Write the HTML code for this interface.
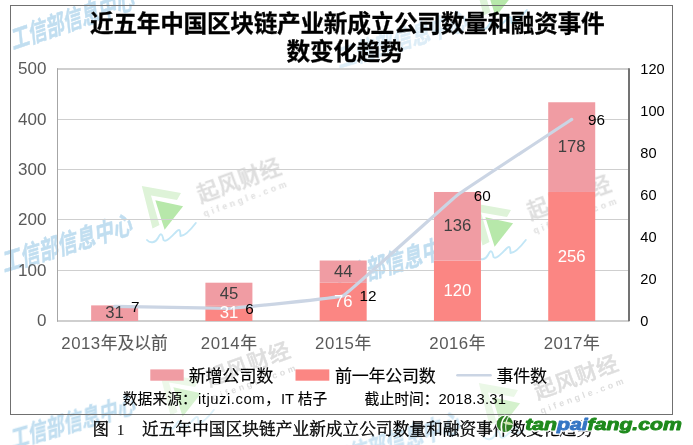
<!DOCTYPE html>
<html lang="zh"><head><meta charset="utf-8"><title>近五年中国区块链产业新成立公司数量和融资事件数变化趋势</title>
<style>
html,body{margin:0;padding:0;background:#fff;overflow:hidden}
svg{display:block}
text{font-family:"Liberation Sans","Noto Sans CJK SC",sans-serif}
</style></head><body>
<svg width="693" height="445" viewBox="0 0 693 445">
<defs><filter id="soft" x="-5%" y="-5%" width="110%" height="110%"><feGaussianBlur stdDeviation="0.55"/></filter></defs>
<rect width="693" height="445" fill="#fff"/>
<g id="wm-back" filter="url(#soft)">
<g transform="translate(13,49.5) rotate(-18.8) skewX(-13) scale(0.725,1)" opacity="1"><text x="0" y="0" font-size="25.5" font-weight="bold" fill="#c1def0" stroke="#c1def0" stroke-width="0.46" stroke-linejoin="round">工信部信息中心</text></g>
<g transform="translate(4,272) rotate(-16.8) skewX(-13) scale(0.757,1)" opacity="1"><text x="0" y="0" font-size="25.5" font-weight="bold" fill="#c1def0" stroke="#c1def0" stroke-width="0.46" stroke-linejoin="round">工信部信息中心</text></g>
<g transform="translate(331,291) rotate(-16.8) skewX(-13) scale(0.757,1)" opacity="1"><text x="0" y="0" font-size="25.5" font-weight="bold" fill="#c1def0" stroke="#c1def0" stroke-width="0.46" stroke-linejoin="round">工信部信息中心</text></g>
<g transform="translate(12,447.5) rotate(-16.0) skewX(-13) scale(0.795,1)" opacity="1"><text x="0" y="0" font-size="23.21" font-weight="bold" fill="#c1def0" stroke="#c1def0" stroke-width="0.42" stroke-linejoin="round">工信部信息中心</text></g>
<g transform="translate(339,68) rotate(-16.8) skewX(-13) scale(0.757,1)" opacity="0.55"><text x="0" y="0" font-size="25.5" font-weight="bold" fill="#c1def0" stroke="#c1def0" stroke-width="0.46" stroke-linejoin="round">工信部信息中心</text></g>
<g transform="translate(332,470) rotate(-16.8) skewX(-13) scale(0.757,1)" opacity="0.8"><text x="0" y="0" font-size="25.5" font-weight="bold" fill="#c1def0" stroke="#c1def0" stroke-width="0.46" stroke-linejoin="round">工信部信息中心</text></g>
<g transform="translate(0,0)" opacity="1"><path d="M141.8 186 L181 193 L177 200 L151 195.5 L159.5 225 L152.5 228.5 Z" fill="#def3d8"/><path d="M155.3 200.3 L183.1 206.2 L164.6 229.8 Z" fill="#b7e8aa"/><path d="M147 240 C150 243.5 155.5 243 158 238 S162 232.5 163.5 240 C166 243 172 236 176 232 S180.2 230 180.5 236 C185 236 192 228 195.8 223" fill="none" stroke="#c2e6f6" stroke-width="1.9" stroke-linecap="round" stroke-linejoin="round"/><g transform="translate(200.4,202.4) rotate(-20)"><text x="0" y="0" font-size="21.5" font-weight="500" letter-spacing="0.5" fill="#dedede" stroke="#dedede" stroke-width="0.47">起风财经</text><text x="-1" y="14.8" font-size="8.8" fill="#dedede" letter-spacing="3.05" font-weight="bold">qifengle.com</text></g></g>
<g transform="translate(330,17)" opacity="1"><path d="M141.8 186 L181 193 L177 200 L151 195.5 L159.5 225 L152.5 228.5 Z" fill="#def3d8"/><path d="M155.3 200.3 L183.1 206.2 L164.6 229.8 Z" fill="#b7e8aa"/><path d="M147 240 C150 243.5 155.5 243 158 238 S162 232.5 163.5 240 C166 243 172 236 176 232 S180.2 230 180.5 236 C185 236 192 228 195.8 223" fill="none" stroke="#c2e6f6" stroke-width="1.9" stroke-linecap="round" stroke-linejoin="round"/><g transform="translate(200.4,202.4) rotate(-20)"><text x="0" y="0" font-size="21.5" font-weight="500" letter-spacing="0.5" fill="#dedede" stroke="#dedede" stroke-width="0.47">起风财经</text><text x="-1" y="14.8" font-size="8.8" fill="#dedede" letter-spacing="3.05" font-weight="bold">qifengle.com</text></g></g>
<g transform="translate(9,184)" opacity="1"><g transform="translate(200.4,202.4) rotate(-20)"><text x="0" y="0" font-size="21.5" font-weight="500" letter-spacing="0.5" fill="#dedede" stroke="#dedede" stroke-width="0.47">起风财经</text><text x="-1" y="14.8" font-size="8.8" fill="#dedede" letter-spacing="3.05" font-weight="bold">qifengle.com</text></g></g>
<g transform="translate(18,187)" opacity="0.55"><path d="M141.8 186 L181 193 L177 200 L151 195.5 L159.5 225 L152.5 228.5 Z" fill="#def3d8"/><path d="M155.3 200.3 L183.1 206.2 L164.6 229.8 Z" fill="#b7e8aa"/><path d="M147 240 C150 243.5 155.5 243 158 238 S162 232.5 163.5 240 C166 243 172 236 176 232 S180.2 230 180.5 236 C185 236 192 228 195.8 223" fill="none" stroke="#c2e6f6" stroke-width="1.9" stroke-linecap="round" stroke-linejoin="round"/></g>
<g transform="translate(337,197)" opacity="1"><g transform="translate(200.4,202.4) rotate(-20)"><text x="0" y="0" font-size="21.5" font-weight="500" letter-spacing="0.5" fill="#dedede" stroke="#dedede" stroke-width="0.47">起风财经</text><text x="-1" y="14.8" font-size="8.8" fill="#dedede" letter-spacing="3.05" font-weight="bold">qifengle.com</text></g></g>
<g transform="translate(337,197)" opacity="0.6"><path d="M141.8 186 L181 193 L177 200 L151 195.5 L159.5 225 L152.5 228.5 Z" fill="#def3d8"/><path d="M155.3 200.3 L183.1 206.2 L164.6 229.8 Z" fill="#b7e8aa"/><path d="M147 240 C150 243.5 155.5 243 158 238 S162 232.5 163.5 240 C166 243 172 236 176 232 S180.2 230 180.5 236 C185 236 192 228 195.8 223" fill="none" stroke="#c2e6f6" stroke-width="1.9" stroke-linecap="round" stroke-linejoin="round"/></g>
<g transform="translate(331,-213)" opacity="1"><path d="M141.8 186 L181 193 L177 200 L151 195.5 L159.5 225 L152.5 228.5 Z" fill="#def3d8"/><path d="M155.3 200.3 L183.1 206.2 L164.6 229.8 Z" fill="#b7e8aa"/><path d="M147 240 C150 243.5 155.5 243 158 238 S162 232.5 163.5 240 C166 243 172 236 176 232 S180.2 230 180.5 236 C185 236 192 228 195.8 223" fill="none" stroke="#c2e6f6" stroke-width="1.9" stroke-linecap="round" stroke-linejoin="round"/></g>
</g>
<rect x="10.5" y="5.5" width="662" height="409" fill="none" stroke="#707070" stroke-width="1"/>
<text x="90.00" y="32.10" font-size="23.7" font-weight="bold" letter-spacing="-0.31" fill="#000" stroke="#000" stroke-width="0.28">近五年中国区块链产业新成立公司数量和融资事件</text>
<text x="286.50" y="59.60" font-size="23.7" font-weight="bold" letter-spacing="-0.31" fill="#000" stroke="#000" stroke-width="0.28">数变化趋势</text>
<line x1="57.5" x2="629" y1="69.0" y2="69.0" stroke="#cfcfcf" stroke-width="1.8"/>
<line x1="57.5" x2="629" y1="119.5" y2="119.5" stroke="#cfcfcf" stroke-width="1"/>
<line x1="57.5" x2="629" y1="169.5" y2="169.5" stroke="#cfcfcf" stroke-width="1"/>
<line x1="57.5" x2="629" y1="219.5" y2="219.5" stroke="#cfcfcf" stroke-width="1"/>
<line x1="57.5" x2="629" y1="270.5" y2="270.5" stroke="#cfcfcf" stroke-width="1"/>
<line x1="57.5" x2="629" y1="321.0" y2="321.0" stroke="#cfcfcf" stroke-width="1.8"/>
<line x1="57.5" x2="57.5" y1="68.2" y2="321.8" stroke="#a6a6a6" stroke-width="1"/>
<rect x="91.14" y="305.38" width="47.0" height="15.62" fill="#f09ca3"/>
<rect x="205.41" y="305.38" width="47.0" height="15.62" fill="#fb8683"/>
<rect x="205.41" y="282.70" width="47.0" height="22.68" fill="#f09ca3"/>
<rect x="319.68" y="282.70" width="47.0" height="38.30" fill="#fb8683"/>
<rect x="319.68" y="260.52" width="47.0" height="22.18" fill="#f09ca3"/>
<rect x="433.95" y="260.52" width="47.0" height="60.48" fill="#fb8683"/>
<rect x="433.95" y="191.98" width="47.0" height="68.54" fill="#f09ca3"/>
<rect x="548.22" y="191.98" width="47.0" height="129.02" fill="#fb8683"/>
<rect x="548.22" y="102.26" width="47.0" height="89.71" fill="#f09ca3"/>
<line x1="629" x2="629" y1="68.2" y2="321.2" stroke="#737373" stroke-width="2"/>
<text x="46.40" y="326.29" font-size="17.0" fill="#595959" text-anchor="end">0</text>
<text x="46.40" y="275.89" font-size="17.0" fill="#595959" text-anchor="end">100</text>
<text x="46.40" y="225.49" font-size="17.0" fill="#595959" text-anchor="end">200</text>
<text x="46.40" y="175.09" font-size="17.0" fill="#595959" text-anchor="end">300</text>
<text x="46.40" y="124.69" font-size="17.0" fill="#595959" text-anchor="end">400</text>
<text x="46.40" y="74.29" font-size="17.0" fill="#595959" text-anchor="end">500</text>
<text x="640.30" y="326.33" font-size="14.6" fill="#000">0</text>
<text x="640.30" y="284.33" font-size="14.6" fill="#000">20</text>
<text x="640.30" y="242.33" font-size="14.6" fill="#000">40</text>
<text x="640.30" y="200.33" font-size="14.6" fill="#000">60</text>
<text x="640.30" y="158.33" font-size="14.6" fill="#000">80</text>
<text x="640.30" y="116.33" font-size="14.6" fill="#000">100</text>
<text x="640.30" y="74.33" font-size="14.6" fill="#000">120</text>
<path d="M114.64 306.30 C116.92 306.34 224.33 308.61 228.91 308.40 C233.48 308.19 338.60 298.07 343.18 295.80 C347.75 293.53 452.87 198.53 457.45 195.00 C462.02 191.47 569.43 120.91 571.72 119.40" fill="none" stroke="#cbd5e4" stroke-width="3.2" stroke-linecap="round" stroke-linejoin="round"/>
<text x="114.64" y="318.17" font-size="16.7" fill="#404040" text-anchor="middle">31</text>
<text x="228.91" y="318.27" font-size="16.7" fill="#fff" text-anchor="middle">31</text>
<text x="228.91" y="299.01" font-size="16.7" fill="#404040" text-anchor="middle">45</text>
<text x="343.18" y="306.93" font-size="16.7" fill="#fff" text-anchor="middle">76</text>
<text x="343.18" y="276.59" font-size="16.7" fill="#404040" text-anchor="middle">44</text>
<text x="457.45" y="295.84" font-size="16.7" fill="#fff" text-anchor="middle">120</text>
<text x="457.45" y="231.23" font-size="16.7" fill="#404040" text-anchor="middle">136</text>
<text x="571.72" y="261.57" font-size="16.7" fill="#fff" text-anchor="middle">256</text>
<text x="571.72" y="152.10" font-size="16.7" fill="#404040" text-anchor="middle">178</text>
<text x="131.03" y="311.88" font-size="15.3" fill="#000">7</text>
<text x="245.31" y="313.98" font-size="15.3" fill="#000">6</text>
<text x="359.57" y="301.38" font-size="15.3" fill="#000">12</text>
<text x="473.85" y="200.58" font-size="15.3" fill="#000">60</text>
<text x="588.12" y="124.98" font-size="15.3" fill="#000">96</text>
<text x="61.35" y="348.60" font-size="16.8" fill="#595959" letter-spacing="0.5">2013</text><text x="100.72" y="348.60" font-size="16.8" fill="#595959" stroke="#595959" stroke-width="0.13">年及以前</text>
<text x="200.82" y="348.60" font-size="16.8" fill="#595959" letter-spacing="0.5">2014</text><text x="240.19" y="348.60" font-size="16.8" fill="#595959" stroke="#595959" stroke-width="0.13">年</text>
<text x="315.09" y="348.60" font-size="16.8" fill="#595959" letter-spacing="0.5">2015</text><text x="354.46" y="348.60" font-size="16.8" fill="#595959" stroke="#595959" stroke-width="0.13">年</text>
<text x="429.36" y="348.60" font-size="16.8" fill="#595959" letter-spacing="0.5">2016</text><text x="468.73" y="348.60" font-size="16.8" fill="#595959" stroke="#595959" stroke-width="0.13">年</text>
<text x="543.63" y="348.60" font-size="16.8" fill="#595959" letter-spacing="0.5">2017</text><text x="583.00" y="348.60" font-size="16.8" fill="#595959" stroke="#595959" stroke-width="0.13">年</text>
<rect x="150.3" y="369.4" width="33.4" height="11.3" fill="#f09ca3"/>
<text x="188.70" y="381.70" font-size="17.0" letter-spacing="-0.1" fill="#000" stroke="#000" stroke-width="0.17">新增公司数</text>
<rect x="295.5" y="369.4" width="33.8" height="11.3" fill="#fb8683"/>
<text x="335.00" y="381.70" font-size="17.0" letter-spacing="-0.25" fill="#000" stroke="#000" stroke-width="0.17">前一年公司数</text>
<line x1="457.5" x2="490.5" y1="375.3" y2="375.3" stroke="#cbd5e4" stroke-width="2.6" stroke-linecap="round"/>
<text x="496.60" y="381.70" font-size="17.0" letter-spacing="-0.3" fill="#000" stroke="#000" stroke-width="0.17">事件数</text>
<text x="122.80" y="403.60" font-size="14.8" fill="#000" stroke="#000" stroke-width="0.15">数据来源：</text>
<text x="197.9" y="403.6" font-size="14.8" fill="#000" textLength="66.6" lengthAdjust="spacing">itjuzi.com</text>
<text x="265.30" y="403.60" font-size="14.8" fill="#000" stroke="#000" stroke-width="0.15">，</text>
<text x="281.00" y="403.60" font-size="14.8" fill="#000">IT</text>
<text x="297.80" y="403.60" font-size="14.8" fill="#000" stroke="#000" stroke-width="0.15">桔子</text>
<text x="364.60" y="403.60" font-size="14.8" fill="#000" stroke="#000" stroke-width="0.15">截止时间：</text>
<text x="438.4" y="403.6" font-size="14.8" fill="#000" textLength="67.5" lengthAdjust="spacing">2018.3.31</text>
<text x="92.40" y="435.30" font-size="16.6" fill="#000" stroke="#000" stroke-width="0.37" style="font-family:'Liberation Serif','Noto Serif CJK SC',serif">图</text>
<text x="116.7" y="435.3" font-size="15.5" fill="#000" style="font-family:'Liberation Serif',serif">1</text>
<text x="142.00" y="435.30" font-size="16.6" letter-spacing="0.12" fill="#000" stroke="#000" stroke-width="0.37" style="font-family:'Liberation Serif','Noto Serif CJK SC',serif">近五年中国区块链产业新成立公司数量和融资事件数变化趋势</text>
<g id="tpf">
<text x="525.2" y="430.2" font-size="16.4" font-weight="bold" font-style="italic" textLength="156.6" lengthAdjust="spacingAndGlyphs" stroke-width="3.6" stroke-linejoin="round"><tspan fill="#fff" stroke="#fff">tan</tspan><tspan fill="#fff" stroke="#fff">pai</tspan><tspan fill="#fff" stroke="#fff">fang.com</tspan></text>
<text x="525.2" y="430.2" font-size="16.4" font-weight="bold" font-style="italic" textLength="156.6" lengthAdjust="spacingAndGlyphs" stroke-width="0.9" stroke-linejoin="round"><tspan fill="#1e8a1c" stroke="#1e8a1c">tan</tspan><tspan fill="#3576c4" stroke="#3576c4">pai</tspan><tspan fill="#1e8a1c" stroke="#1e8a1c">fang.com</tspan></text>
<circle cx="504.8" cy="423.9" r="9.1" fill="#fff" opacity="0.9"/>
<circle cx="504.8" cy="423.9" r="8.1" fill="#2f7f24"/>
<path d="M505.6 416 C502.2 419.5 500.6 425.5 501.8 431.4" fill="none" stroke="#fff" stroke-width="1.7" stroke-linecap="round"/>
<path d="M508.4 417 C506 420.5 505.2 426 506 431.2" fill="none" stroke="#fff" stroke-width="1.2" stroke-linecap="round" opacity="0.85"/>
<path d="M503.6 422.6 C506.5 421.4 510 422 513 424.6 C509.5 424.6 506 424.4 503.6 422.6 Z" fill="#c4e88a" stroke="#fff" stroke-width="0.6"/>
</g>
</svg>
</body></html>
